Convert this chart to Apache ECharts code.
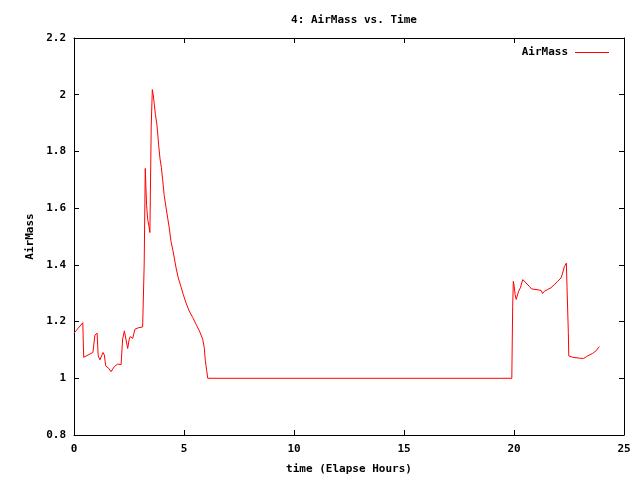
<!DOCTYPE html>
<html>
<head>
<meta charset="utf-8">
<script src="https://cdn.jsdelivr.net/npm/echarts@6/dist/echarts.min.js"></script>
<style>html,body{margin:0;padding:0;background:#fff}#c{width:640px;height:480px}</style>
</head>
<body>
<div id="c"></div>
<script>
var chartTitle = "4: AirMass vs. Time";
var seriesName = "AirMass";
var xAxisName = "time (Elapse Hours)";
var yAxisName = "AirMass";
var xTicks = [0, 5, 10, 15, 20, 25];
var yTicks = [0.8, 1, 1.2, 1.4, 1.6, 1.8, 2, 2.2];

var times = [0,0.40,0.44,0.86,0.95,1.05,1.10,1.18,1.27,1.32,1.38,1.44,1.53,1.58,1.68,1.74,1.83,1.99,2.08,2.14,2.21,2.29,2.36,2.44,2.51,2.56,2.67,2.77,2.92,3.12,3.16,3.19,3.24,3.27,3.30,3.35,3.41,3.45,3.47,3.51,3.56,3.60,3.65,3.70,3.76,3.80,3.85,3.91,3.97,4.03,4.10,4.18,4.26,4.33,4.41,4.49,4.56,4.64,4.74,4.86,4.97,5.09,5.24,5.40,5.55,5.70,5.85,5.92,5.97,6.03,6.08,
  19.90,19.94,19.97,20.01,20.05,20.10,20.17,20.21,20.29,20.35,20.40,20.55,20.70,20.80,21.00,21.23,21.30,21.38,21.53,21.68,21.83,21.99,22.14,22.21,22.29,22.38,22.41,22.47,22.49,22.67,22.97,23.17,23.35,23.58,23.73,23.88];
var airmass = [1.159,1.196,1.074,1.091,1.152,1.159,1.079,1.065,1.082,1.091,1.082,1.044,1.042,1.035,1.023,1.027,1.041,1.050,1.044,1.048,1.138,1.167,1.173,1.105,1.138,1.147,1.141,1.173,1.178,1.181,1.185,1.40,1.74,1.67,1.61,1.56,1.535,1.514,1.64,1.89,2.018,2.0,1.966,1.93,1.90,1.868,1.82,1.774,1.744,1.70,1.645,1.604,1.564,1.53,1.482,1.453,1.424,1.389,1.354,1.324,1.295,1.266,1.237,1.214,1.19,1.167,1.138,1.109,1.062,1.027,1.0,
  1.0,1.254,1.342,1.324,1.295,1.278,1.283,1.307,1.319,1.336,1.348,1.336,1.324,1.315,1.313,1.31,1.299,1.307,1.313,1.319,1.33,1.342,1.354,1.371,1.394,1.406,1.321,1.161,1.079,1.074,1.071,1.07,1.079,1.088,1.097,1.112];

var data = times.map(function(t, i){ return [t, airmass[i]]; });
var font = '"DejaVu Sans Mono", monospace';
var xMin = xTicks[0], xMax = xTicks[xTicks.length-1], xInt = xTicks[1]-xTicks[0];
var yMin = yTicks[0], yMax = yTicks[yTicks.length-1], yInt = 0.2;

function axisBase(show){
  return {
    axisLine: {show: true, onZero: false, lineStyle: {color: '#000', width: 1}},
    axisTick: {show: true, inside: true, length: 5, lineStyle: {color: '#000'}},
    splitLine: {show: false},
    axisLabel: {show: show, color: '#000', fontFamily: font, fontWeight: 'bold', fontSize: 11}
  };
}

var chart = echarts.init(document.getElementById('c'), null, {renderer: 'canvas'});
var xa0 = Object.assign(axisBase(true), {type: 'value', min: xMin, max: xMax, interval: xInt, position: 'bottom',
  name: xAxisName, nameLocation: 'middle', nameGap: 29,
  nameTextStyle: {color: '#000', fontFamily: font, fontWeight: 'bold', fontSize: 11}});
xa0.axisLabel.margin = 9;
var xa1 = Object.assign(axisBase(false), {type: 'value', min: xMin, max: xMax, interval: xInt, position: 'top'});
var ya0 = Object.assign(axisBase(true), {type: 'value', min: yMin, max: yMax, interval: yInt, position: 'left',
  name: yAxisName, nameLocation: 'middle', nameGap: 38, nameRotate: 90,
  nameTextStyle: {color: '#000', fontFamily: font, fontWeight: 'bold', fontSize: 11}});
ya0.axisLabel.margin = 8;
var ya1 = Object.assign(axisBase(false), {type: 'value', min: yMin, max: yMax, interval: yInt, position: 'right'});

chart.setOption({
  animation: false,
  backgroundColor: '#fff',
  title: {text: chartTitle, left: 349, top: 10, textAlign: 'center',
    textStyle: {color: '#000', fontFamily: font, fontWeight: 'bold', fontSize: 11}},
  legend: {data: [{name: seriesName, icon: 'path://M0,0L34,0L34,1L0,1Z'}], right: 26, top: 42, align: 'right',
    itemWidth: 34, itemHeight: 1.5, itemGap: 7,
    itemStyle: {color: '#ff0000', borderWidth: 0},
    textStyle: {color: '#000', fontFamily: font, fontWeight: 'bold', fontSize: 11, padding: [0, 2, 0, 0]}},
  grid: {left: 74, right: 16, top: 38, bottom: 42, containLabel: false},
  xAxis: [xa0, xa1],
  yAxis: [ya0, ya1],
  series: [{
    name: seriesName, type: 'line', data: data, symbol: 'none', showSymbol: false,
    lineStyle: {color: '#ff0000', width: 1}, itemStyle: {color: '#ff0000'}
  }]
});
</script>
</body>
</html>
